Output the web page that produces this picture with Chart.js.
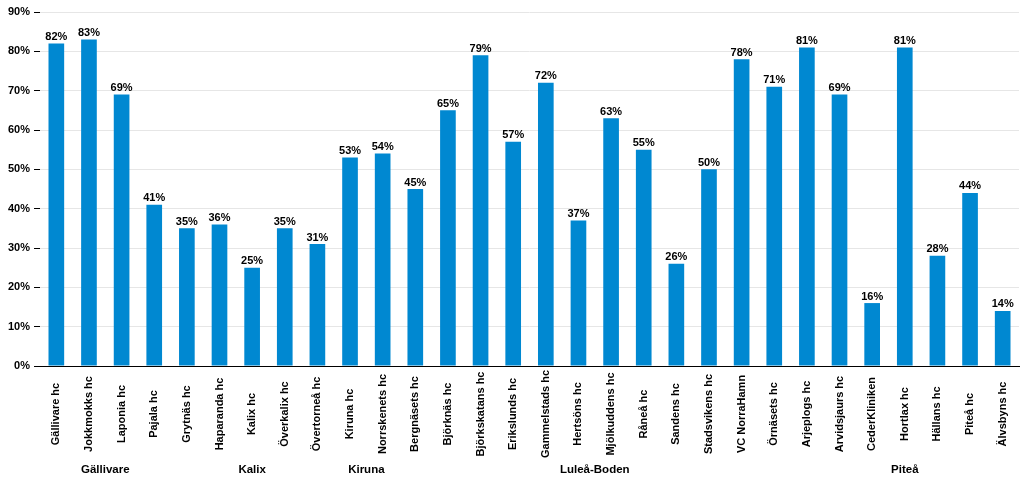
<!DOCTYPE html>
<html>
<head>
<meta charset="utf-8">
<script src="https://cdn.jsdelivr.net/npm/chart.js@4.4.1/dist/chart.umd.min.js"></script>
<style>
  html, body { margin: 0; padding: 0; background: #fff; }
  #wrap { width: 1024px; height: 483px; position: relative; }
</style>
</head>
<body>
<div id="wrap"><canvas id="c"></canvas></div>
<script>
const categories = ['Gällivare hc','Jokkmokks hc','Laponia hc','Pajala hc','Grytnäs hc','Haparanda hc','Kalix hc','Överkalix hc','Övertorneå hc','Kiruna hc','Norrskenets hc','Bergnäsets hc','Björknäs hc','Björkskatans hc','Erikslunds hc','Gammelstads hc','Hertsöns hc','Mjölkuddens hc','Råneå hc','Sandens hc','Stadsvikens hc','VC NorraHamn','Örnäsets hc','Arjeplogs hc','Arvidsjaurs hc','CederKliniken','Hortlax hc','Hällans hc','Piteå hc','Älvsbyns hc'];
const values = [82,83,69,41,35,36,25,35,31,53,54,45,65,79,57,72,37,63,55,26,50,78,71,81,69,16,81,28,44,14];
const groupNames = ['Gällivare','Kalix','Kiruna','Luleå-Boden','Piteå'];
const groupSizes = [4,5,2,12,7];
const yTicks = [0,10,20,30,40,50,60,70,80,90];

const FONT = '"Liberation Sans", Arial, sans-serif';

const valueLabels = {
  id: 'valueLabels',
  afterDatasetsDraw(chart) {
    const ctx = chart.ctx;
    const meta = chart.getDatasetMeta(0);
    ctx.save();
    ctx.font = 'bold 11px ' + FONT;
    ctx.fillStyle = '#000';
    ctx.textAlign = 'center';
    ctx.textBaseline = 'bottom';
    meta.data.forEach((bar, i) => {
      ctx.fillText(values[i] + '%', bar.x, bar.y - 1);
    });
    ctx.restore();
  }
};

// Category labels (rotated, centred in the label band) and group labels
const axisLabels = {
  id: 'axisLabels',
  afterDraw(chart) {
    const ctx = chart.ctx;
    const xs = chart.scales.x;
    ctx.save();
    ctx.fillStyle = '#000';
    ctx.font = 'bold 11px ' + FONT;
    ctx.textAlign = 'center';
    ctx.textBaseline = 'middle';
    categories.forEach((c, i) => {
      ctx.save();
      ctx.translate(xs.getPixelForValue(i), xs.top + 48);
      ctx.rotate(-Math.PI / 2);
      ctx.fillText(c, 0, 0);
      ctx.restore();
    });
    ctx.font = 'bold 11.5px ' + FONT;
    let start = 0;
    groupNames.forEach((g, k) => {
      const end = start + groupSizes[k] - 1;
      const x = (xs.getPixelForValue(start) + xs.getPixelForValue(end)) / 2;
      ctx.fillText(g, x, xs.top + 104);
      start = end + 1;
    });
    ctx.restore();
  }
};

new Chart(document.getElementById('c'), {
  type: 'bar',
  data: {
    labels: categories,
    datasets: [{
      data: values,
      backgroundColor: '#0088D1',
      borderWidth: 0,
      categoryPercentage: 1.0,
      barPercentage: 0.48
    }]
  },
  options: {
    responsive: true,
    maintainAspectRatio: false,
    animation: false,
    layout: { padding: { left: 4, right: 5, top: 12, bottom: 0 } },
    plugins: { legend: { display: false }, tooltip: { enabled: false } },
    scales: {
      x: {
        grid: { display: false, drawTicks: false },
        border: { display: true, color: '#000', width: 1 },
        ticks: { display: false, autoSkip: false },
        afterFit(scale) { scale.height = 117; }
      },
      y: {
        min: 0,
        max: 90,
        afterBuildTicks(axis) { axis.ticks = yTicks.map(v => ({ value: v })); },
        grid: { color: '#e6e6e6', lineWidth: 1, tickColor: '#000', tickLength: 6, drawTicks: true },
        border: { display: false },
        ticks: {
          padding: 4,
          color: '#000',
          font: { family: FONT, size: 11, weight: 'bold' },
          callback: v => v + '%'
        }
      }
    }
  },
  plugins: [valueLabels, axisLabels]
});
</script>
</body>
</html>
